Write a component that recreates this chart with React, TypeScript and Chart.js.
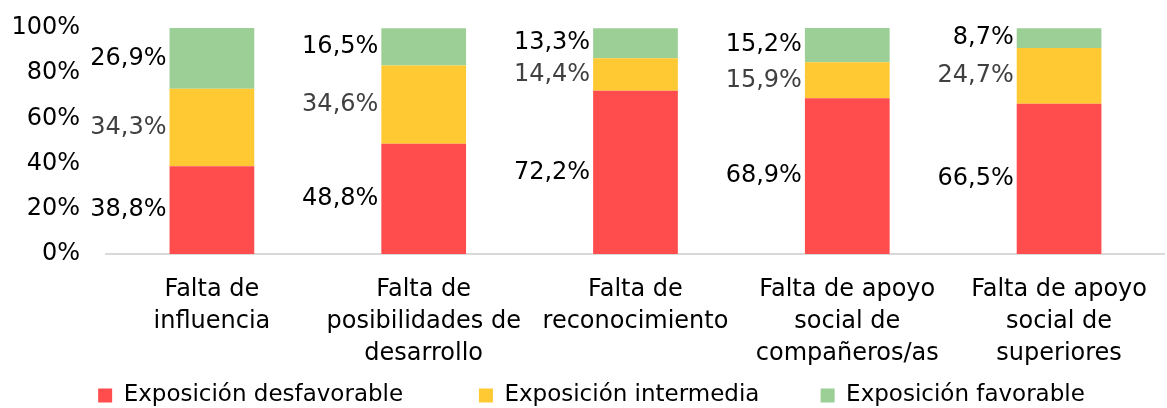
import React, { useEffect, useRef } from "react";
import { Chart, registerables } from "chart.js";

Chart.register(...registerables);

const categories: string[][] = [
  ["Falta de", "influencia"],
  ["Falta de", "posibilidades de", "desarrollo"],
  ["Falta de", "reconocimiento"],
  ["Falta de apoyo", "social de", "compañeros/as"],
  ["Falta de apoyo", "social de", "superiores"],
];
const desfavorable = [38.8, 48.8, 72.2, 68.9, 66.5];
const intermedia = [34.3, 34.6, 14.4, 15.9, 24.7];
const favorable = [26.9, 16.5, 13.3, 15.2, 8.7];
const seriesNames = ["Exposición desfavorable", "Exposición intermedia", "Exposición favorable"];
const yTicks = [0, 20, 40, 60, 80, 100];

const FONT = "'DejaVu Sans', sans-serif";

const fmt = (v: number) => v.toFixed(1).replace(".", ",") + "%";

const labelPlugin = {
  id: "segLabels",
  afterDatasetsDraw(chart: any) {
    const ctx = chart.ctx;
    ctx.save();
    ctx.font = `24px ${FONT}`;
    ctx.textAlign = "right";
    ctx.textBaseline = "middle";
    chart.data.datasets.forEach((ds: any, di: number) => {
      const meta = chart.getDatasetMeta(di);
      ctx.fillStyle = ds.labelColor;
      meta.data.forEach((bar: any, i: number) => {
        const { x, y, base, width } = bar.getProps(["x", "y", "base", "width"], true);
        ctx.fillText(fmt(ds.data[i]), x - width / 2 - 3, (y + base) / 2);
      });
    });
    ctx.restore();
  },
};

const legendShift = {
  id: "legendShift",
  afterLayout(chart: any) {
    const lg = chart.legend;
    if (!lg) return;
    lg.left += 14;
    lg.top += 2;
    lg.bottom += 2;
  },
};

const gap = (n: number) => "\u00a0".repeat(n);
const legendGaps = [9, 7, 0];

export default function App() {
  const ref = useRef<HTMLCanvasElement>(null);
  useEffect(() => {
    if (!ref.current) return;
    const chart = new Chart(ref.current, {
      type: "bar",
      data: {
        labels: categories as any,
        datasets: [
          { label: seriesNames[0], data: desfavorable, backgroundColor: "#FF4D4D", labelColor: "#000000" } as any,
          { label: seriesNames[1], data: intermedia, backgroundColor: "#FFC933", labelColor: "#404040" } as any,
          { label: seriesNames[2], data: favorable, backgroundColor: "#9BCF96", labelColor: "#000000" } as any,
        ],
      },
      options: {
        animation: false,
        responsive: true,
        maintainAspectRatio: false,
        layout: { padding: { top: 28, right: -2, bottom: -7, left: 0 } },
        datasets: { bar: { categoryPercentage: 1, barPercentage: 0.4 } },
        plugins: {
          legend: {
            position: "bottom",
            labels: {
              font: { family: FONT, size: 23 },
              color: "#000",
              boxWidth: 14,
              boxHeight: 14,
              padding: 10,
              generateLabels: (chart: any) => {
                const items = Chart.defaults.plugins.legend.labels.generateLabels(chart);
                return items.map((it: any, i: number) => ({
                  ...it,
                  text: it.text + gap(legendGaps[i] || 0),
                }));
              },
            },
          },
          tooltip: { enabled: false },
        },
        scales: {
          x: {
            stacked: true,
            grid: { display: false, drawTicks: false },
            border: { display: true, color: "#d9d9d9", width: 2 },
            afterFit: (s: any) => { s.height = 118; },
            ticks: {
              font: { family: FONT, size: 24, lineHeight: 1.33 },
              color: "#000",
              padding: 20,
              maxRotation: 0,
              autoSkip: false,
            },
          },
          y: {
            stacked: true,
            min: 0,
            max: 100,
            grid: { display: false, drawTicks: true, tickLength: 26 },
            border: { display: false },
            afterFit: (s: any) => { s.width = 106; },
            afterBuildTicks: (s: any) => { s.ticks = yTicks.map((v) => ({ value: v })); },
            ticks: {
              font: { family: FONT, size: 24 },
              color: "#000",
              padding: 0,
              autoSkip: false,
              callback: (v: any) => v + "%",
            },
          },
        },
      },
      plugins: [labelPlugin, legendShift],
    });
    return () => chart.destroy();
  }, []);
  return (
    <div style={{ position: "absolute", left: 0, top: 0, width: 1167, height: 408 }}>
      <canvas ref={ref} />
    </div>
  );
}
